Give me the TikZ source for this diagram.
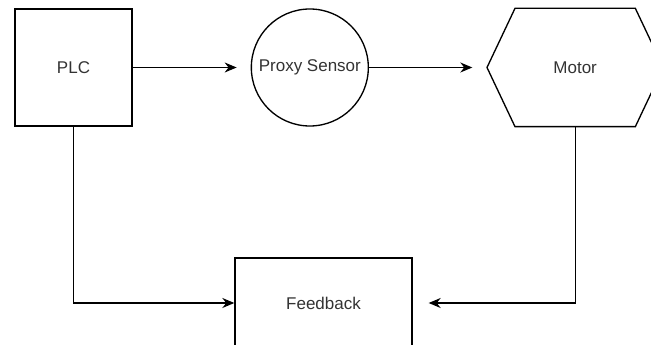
\documentclass[tikz,border=0pt]{standalone}
\usepackage{fontspec}
\setmainfont{Liberation Sans}
\usetikzlibrary{arrows.meta, positioning, calc}

\begin{document}
\begin{tikzpicture}[x=0.75pt, y=-0.75pt,
  block/.style={rectangle, draw, line width=1pt, minimum width=87.75pt, minimum height=87.75pt, font=\fontsize{12.75}{15}\selectfont, text=black!80},
  roundblock/.style={block, circle, minimum size=87.75pt, inner sep=0pt},
  hexblock/.style={block, draw=none, minimum width=131.25pt},
  arr/.style={-{Stealth[length=9pt, width=7.5pt]}, line width=1pt}
]
  \useasboundingbox (0,0) rectangle (651,345);

  \node[block] (plc) at (73.5,67.5) {PLC};
  \node[roundblock, right=88.5pt of plc] (sensor) {Proxy Sensor};
  \node[hexblock, right=88.5pt of sensor] (motor) {Motor};
  \node[block, minimum width=132.75pt, minimum height=67.5pt] (feedback) at (323.5,303) {Feedback};

  % hexagon outline round the motor node
  \draw[line width=1pt] (motor.west) -- ($(motor.north west)+(28,0)$) -- ($(motor.north east)+(-28,0)$)
    -- (motor.east) -- ($(motor.south east)+(-28,0)$) -- ($(motor.south west)+(28,0)$) -- cycle;

  \draw[arr, shorten >=10.5pt] (plc) -- (sensor);
  \draw[arr, shorten >=11pt] (sensor) -- (motor);
  \draw[arr] (plc.south) |- (feedback.west);
  \draw[arr, shorten >=12pt] (motor.south) |- (feedback.east);
\end{tikzpicture}
\end{document}
